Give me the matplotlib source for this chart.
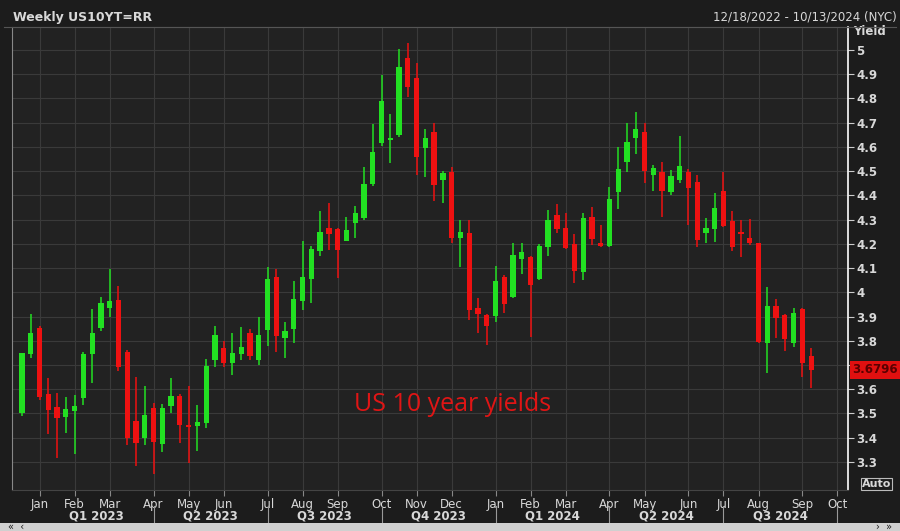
import matplotlib
matplotlib.use("Agg")
import matplotlib.pyplot as plt
import numpy as np
import pandas as pd

# weekly candles, week starting Sunday
start_date = "2022-12-18"
opens = [3.50, 3.745, 3.853, 3.58, 3.527, 3.486, 3.51, 3.564, 3.745, 3.853,
         3.935, 3.968, 3.754, 3.469, 3.40, 3.523, 3.374, 3.53, 3.572, 3.453,
         3.448, 3.46, 3.72, 3.77, 3.71, 3.745, 3.832, 3.72, 3.845, 4.063,
         3.81, 3.849, 3.964, 4.055, 4.17, 4.266, 4.26, 4.21, 4.286, 4.306,
         4.447, 4.616, 4.63, 4.65, 4.967, 4.885, 4.596, 4.66, 4.464, 4.497,
         4.224, 4.245, 3.935, 3.906, 3.902, 4.063, 3.981, 4.138, 4.146, 4.055,
         4.187, 4.319, 4.266, 4.20, 4.084, 4.31, 4.204, 4.19, 4.414, 4.538,
         4.637, 4.66, 4.484, 4.497, 4.414, 4.464, 4.497, 4.455, 4.245, 4.262,
         4.418, 4.294, 4.249, 4.224, 4.204, 3.79, 3.944, 3.906, 3.79, 3.931,
         3.737]
highs = [3.75, 3.91, 3.86, 3.646, 3.585, 3.568, 3.576, 3.754, 3.931, 3.98,
         4.096, 4.026, 3.762, 3.65, 3.614, 3.544, 3.54, 3.646, 3.58, 3.614,
         3.535, 3.725, 3.86, 3.80, 3.83, 3.857, 3.85, 3.898, 4.105, 4.096,
         3.878, 4.047, 4.212, 4.19, 4.335, 4.37, 4.265, 4.31, 4.356, 4.517,
         4.695, 4.897, 4.736, 5.004, 5.03, 4.946, 4.674, 4.70, 4.50, 4.517,
         4.30, 4.298, 3.976, 3.91, 4.109, 4.07, 4.204, 4.204, 4.15, 4.20,
         4.34, 4.365, 4.327, 4.24, 4.327, 4.352, 4.278, 4.435, 4.60, 4.699,
         4.744, 4.70, 4.525, 4.538, 4.505, 4.645, 4.509, 4.484, 4.307, 4.41,
         4.497, 4.335, 4.30, 4.302, 4.205, 4.022, 3.973, 3.91, 3.935, 3.935,
         3.77]
lows = [3.49, 3.73, 3.556, 3.415, 3.317, 3.42, 3.333, 3.535, 3.626, 3.84,
        3.898, 3.676, 3.37, 3.283, 3.37, 3.25, 3.34, 3.50, 3.378, 3.296,
        3.345, 3.44, 3.69, 3.69, 3.66, 3.72, 3.72, 3.70, 3.78, 3.754,
        3.73, 3.79, 3.927, 3.956, 4.15, 4.175, 4.06, 4.21, 4.224, 4.30,
        4.44, 4.604, 4.534, 4.64, 4.806, 4.484, 4.476, 4.376, 4.368, 4.204,
        4.105, 3.886, 3.832, 3.783, 3.878, 3.915, 3.976, 4.076, 3.816, 4.05,
        4.15, 4.245, 4.18, 4.04, 4.05, 4.195, 4.187, 4.185, 4.344, 4.497,
        4.571, 4.45, 4.42, 4.31, 4.40, 4.45, 4.278, 4.187, 4.204, 4.208,
        4.27, 4.17, 4.146, 4.195, 3.79, 3.667, 3.812, 3.758, 3.775, 3.65,
        3.605]
closes = [3.75, 3.832, 3.568, 3.515, 3.482, 3.519, 3.53, 3.746, 3.832, 3.956,
          3.964, 3.692, 3.40, 3.378, 3.494, 3.383, 3.523, 3.572, 3.453, 3.444,
          3.465, 3.696, 3.824, 3.71, 3.75, 3.775, 3.737, 3.824, 4.055, 3.82,
          3.84, 3.972, 4.063, 4.18, 4.25, 4.24, 4.175, 4.257, 4.327, 4.447,
          4.579, 4.79, 4.635, 4.93, 4.847, 4.56, 4.637, 4.443, 4.493, 4.224,
          4.249, 3.927, 3.91, 3.86, 4.047, 3.952, 4.154, 4.167, 4.03, 4.19,
          4.298, 4.261, 4.183, 4.088, 4.307, 4.22, 4.19, 4.385, 4.509, 4.62,
          4.674, 4.50, 4.513, 4.42, 4.48, 4.521, 4.43, 4.216, 4.266, 4.348,
          4.274, 4.187, 4.24, 4.204, 3.795, 3.944, 3.894, 3.807, 3.915, 3.709,
          3.6796]
yield_ticks = [3.3, 3.4, 3.5, 3.6, 3.7, 3.8, 3.9, 4.0, 4.1, 4.2, 4.3, 4.4, 4.5, 4.6, 4.7, 4.8, 4.9, 5.0]
quarters = ["Q1 2023", "Q2 2023", "Q3 2023", "Q4 2023", "Q1 2024", "Q2 2024", "Q3 2024"]
last_price = "3.6796"

BG = "#1c1c1c"
PANEL = "#222222"
GRID = "#3a3a3a"
TXT = "#d8d8d8"
UP = "#22e022"
DOWN = "#ee1111"

weeks = pd.date_range(start_date, periods=len(opens), freq="7D")
x = np.arange(len(opens))

fig = plt.figure(figsize=(9, 5.31), dpi=100, facecolor=BG)
ax = fig.add_axes([12 / 900, 41 / 531, 836 / 900, 463 / 531], facecolor=PANEL)

for i in x:
    o, h, l, c = opens[i], highs[i], lows[i], closes[i]
    col = UP if c >= o else DOWN
    ax.vlines(i, l, h, color=col, linewidth=1.1, zorder=3)
    ax.bar(i, max(abs(c - o), 0.004), bottom=min(o, c), width=0.6,
           color=col, linewidth=0, zorder=4)

ax.set_xlim(-1.14, 94.2)
ax.set_ylim(3.184, 5.095)

# month ticks: week that contains the first business day of each month
month_starts = pd.date_range("2023-01-01", "2024-10-01", freq="BMS")
tick_idx, tick_lbl = [], []
for m in month_starts:
    tick_idx.append(int((m - weeks[0]).days // 7))
    tick_lbl.append(m.strftime("%b"))

ax.set_xticks(tick_idx)
ax.set_xticklabels(tick_lbl, color=TXT, fontsize=8.5)
ax.tick_params(axis="x", length=4, color="#888888", pad=2)
ax.set_yticks(yield_ticks)
ax.yaxis.tick_right()
ax.set_yticklabels([f"{v:g}" for v in yield_ticks], color=TXT, fontsize=8.5,
                   fontweight="bold")
ax.tick_params(axis="y", length=4, color="#cccccc", pad=2)
ax.grid(True, color=GRID, linewidth=0.8, zorder=0)

for s in ["top", "bottom"]:
    ax.spines[s].set_color("#444444")
ax.spines["left"].set_color("#888888")
ax.spines["right"].set_color("#ffffff")
ax.spines["right"].set_linewidth(1.2)

# quarter labels and separators
q_idx = tick_idx[0::3]
for j, q in enumerate(quarters):
    a = q_idx[j]
    b = q_idx[j + 1] if j + 1 < len(q_idx) else tick_idx[-1]
    ax.text((a + b) / 2, -0.057, q, transform=ax.get_xaxis_transform(),
            ha="center", va="center", color=TXT, fontsize=8.5, fontweight="bold")
for a in q_idx[1:]:
    ax.plot([a, a], [-0.035, -0.075], transform=ax.get_xaxis_transform(),
            color="#999999", linewidth=0.8, clip_on=False)

ax.text(1.006, 1.005, "Yield", transform=ax.transAxes, color=TXT, fontsize=8.5,
        fontweight="bold", va="top")
ax.text(0.527, 0.184, "US 10 year yields", transform=ax.transAxes, color="#e01515",
        fontsize=18, family="Open Sans", ha="center", va="center")

# last price tag
ax.annotate(last_price, xy=(1.0, closes[-1]), xycoords=("axes fraction", "data"),
            xytext=(3, 0), textcoords="offset points", va="center", ha="left",
            fontsize=8.5, fontweight="bold", color="#5a0000", zorder=10,
            bbox=dict(boxstyle="square,pad=0.2", fc="#e01010", ec="none"))

ax.text(1.034, 0.013, "Auto", transform=ax.transAxes, color=TXT, fontsize=8,
        fontweight="bold", ha="center", va="center",
        bbox=dict(boxstyle="square,pad=0.1", fc=BG, ec="#bbbbbb", lw=0.8))

# header
fig.text(13 / 900, 1 - 17 / 531, "Weekly US10YT=RR", color=TXT, fontsize=9,
         fontweight="bold", va="center")
fig.text(897 / 900, 1 - 17 / 531, "12/18/2022 - 10/13/2024 (NYC)", color=TXT,
         fontsize=8.5, ha="right", va="center")
fig.add_artist(plt.Line2D([0.004, 0.996], [1 - 27 / 531, 1 - 27 / 531],
                          color="#555555", linewidth=0.8))
fig.add_artist(plt.Rectangle((0, 0), 1, 8 / 531, color="#d0d0d0", linewidth=0))
fig.text(8 / 900, 4 / 531, "«  ‹", color="#222222", fontsize=7, va="center")
fig.text(892 / 900, 4 / 531, "›  »", color="#222222", fontsize=7, va="center",
         ha="right")

fig.savefig("out.png", dpi=100, facecolor=BG)
